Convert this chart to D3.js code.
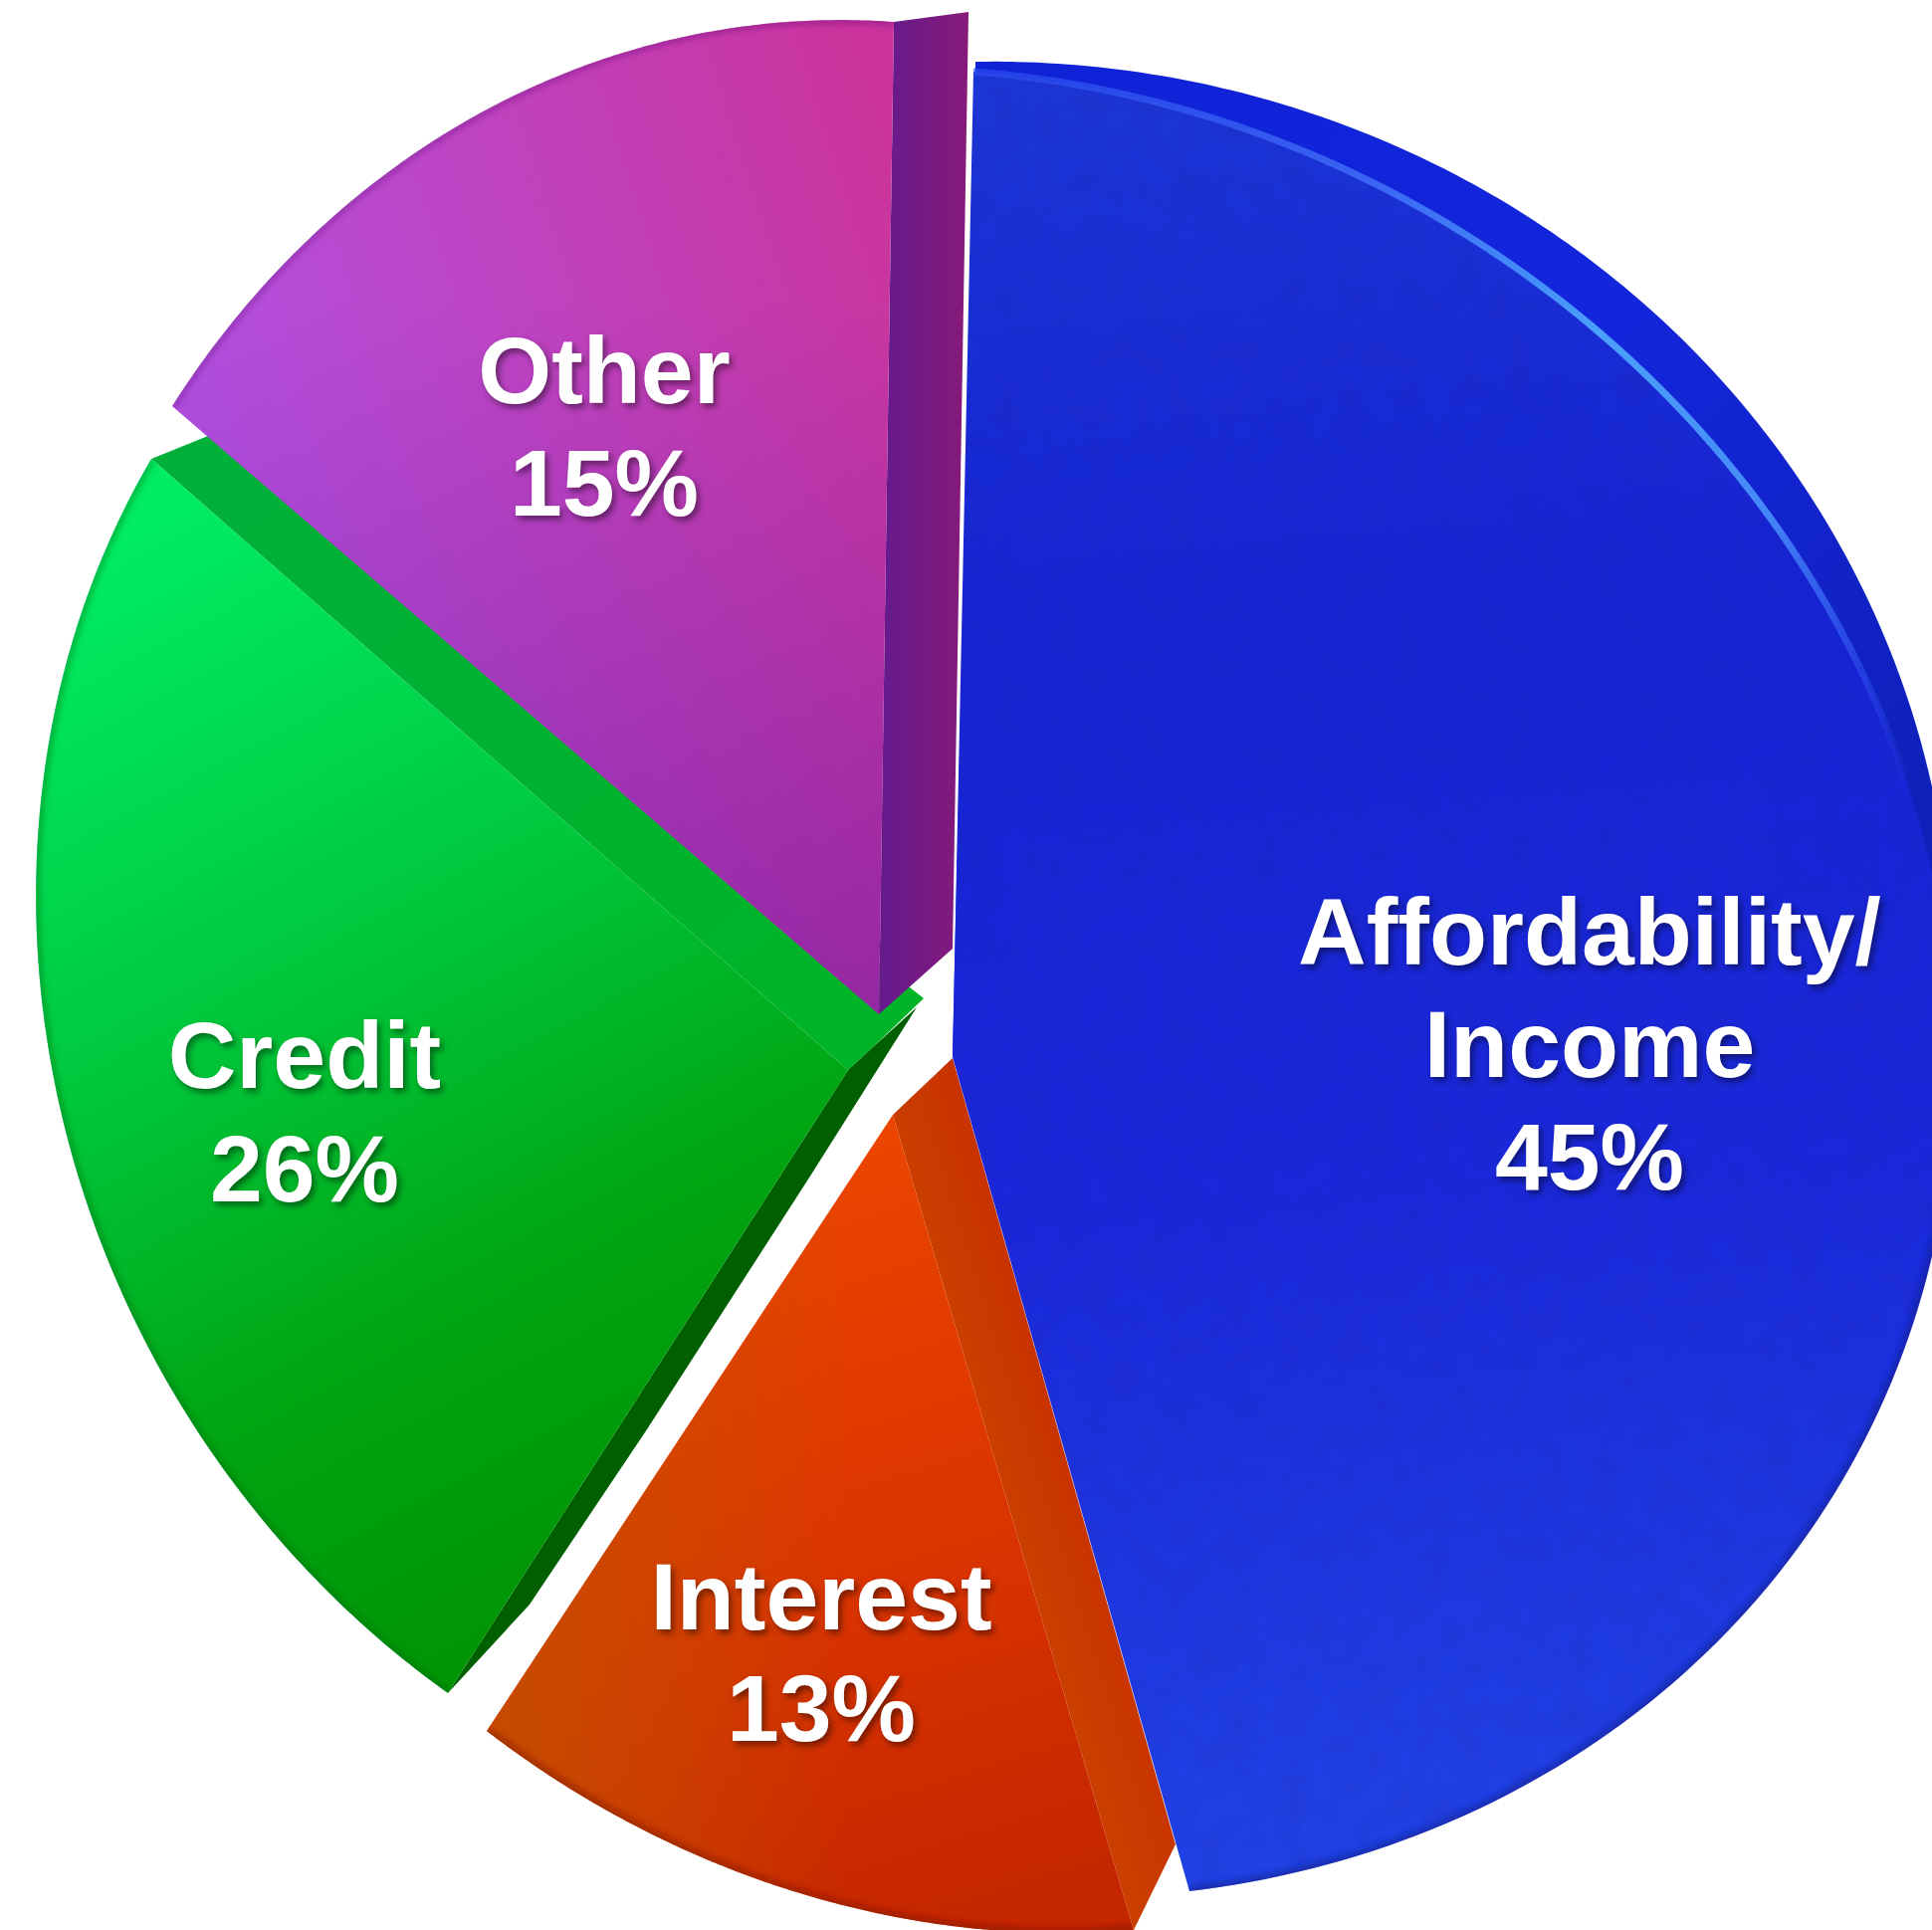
<!DOCTYPE html>
<html><head><meta charset="utf-8">
<style>html,body{margin:0;background:#fff;overflow:hidden}text{font-family:"Liberation Sans",Arial,sans-serif;font-weight:700;fill:#fff;text-anchor:middle;filter:drop-shadow(3px 4px 3px rgba(0,0,0,.45))}</style>
<script src="https://cdn.jsdelivr.net/npm/d3@7/dist/d3.min.js"></script>
</head><body><svg id="c" width="1941" height="1939"></svg>
<script>
const categories=["Affordability/ Income","Interest","Credit","Other"];
const values=[45,13,26,15];
const percentLabels=["45%","13%","26%","15%"];
const labelLines=[["Affordability/","Income"],["Interest"],["Credit"],["Other"]];

// Perspective anchors: apex, rim at start angle, rim at mid angle, rim at end angle.
const faces=[
 {a:[957,1062],s:[978,72],m:[1962,1034],e:[1195,1900]},
 {a:[897,1120],s:[1139,1939],m:[797,1900],e:[489,1739]},
 {a:[852,1075],s:[450,1701],m:[70,1152],e:[152,461]},
 {a:[883,1019],s:[173,408],m:[491,109],e:[898,22]}
];
const blueBack={a:[957,1062],s:[980,62],m:[1961,948],e:[1190,1880]};
const sideFaces=[
 {pts:[[957,1063],[897,1120],[1139,1939],[1181,1853]],fill:"url(#redSide)"},
 {pts:[[152,461],[209,438],[928,1003],[877,1052],[852,1075]],fill:"url(#greenTop)"},
 {pts:[[852,1075],[877,1052],[921,1012],[815,1180],[650,1436],[532,1612],[450,1701]],fill:"#006000"},
 {pts:[[898,22],[973,12],[957,953],[883,1019]],fill:"url(#purpleSide)"}
];
const labelPos=[[1597,969],[825,1637],[306,1093],[607,405]];
const fills=["url(#blue)","url(#red)","url(#green)","url(#purple)"];

const svg=d3.select("#c"), defs=svg.append("defs");
function grad(id,x1,y1,x2,y2,stops){
  const g=defs.append("linearGradient").attr("id",id).attr("gradientUnits","userSpaceOnUse")
   .attr("x1",x1).attr("y1",y1).attr("x2",x2).attr("y2",y2);
  stops.forEach(([o,c,op])=>g.append("stop").attr("offset",o).attr("stop-color",c).attr("stop-opacity",op==null?1:op));
}
grad("blue",1300,60,1450,1900,[[0,"#1c36d6"],[.3,"#1624d4"],[.62,"#1a28da"],[1,"#2144e6"]]);
grad("blueBack",1000,60,1900,900,[[0,"#0f22d6"],[.5,"#1426dc"],[1,"#0f20b8"]]);
grad("hl",1000,70,1930,860,[[0,"#2c4cf0",.7],[.3,"#3a66f4",1],[.52,"#4aa0fc",1],[.72,"#4488f8",1],[.86,"#2c4cec",.7],[.96,"#2a40e8",0]]);
grad("red",760,1150,1000,1920,[[0,"#ec4600"],[.55,"#da3400"],[1,"#c42600"]]);
grad("redTint",470,1700,850,1700,[[0,"#c25000",.9],[1,"#c25000",0]]);
grad("redSide",900,1400,1060,1350,[[0,"#cc4a00"],[1,"#c83000"]]);
grad("green",200,500,800,1620,[[0,"#00ec62"],[.33,"#00cc42"],[.66,"#00a512"],[1,"#008f00"]]);
grad("greenTop",300,480,800,1060,[[0,"#00b038"],[1,"#00b428"]]);
grad("purple",200,380,900,160,[[0,"#b350e0"],[1,"#cb349c"]]);
grad("purpleShade",600,300,600,1020,[[0,"#6a1090",0],[1,"#6a1090",.5]]);
grad("purpleSide",890,500,975,500,[[0,"#661a8c"],[1,"#881a78"]]);

const f=defs.append("filter").attr("id","soft").attr("x","-5%").attr("y","-5%").attr("width","110%").attr("height","110%");
f.append("feGaussianBlur").attr("stdDeviation",3.5);
const n=defs.append("filter").attr("id","noise").attr("x",0).attr("y",0).attr("width","100%").attr("height","100%");
n.append("feTurbulence").attr("type","fractalNoise").attr("baseFrequency",.035).attr("numOctaves",3).attr("seed",4);
n.append("feColorMatrix").attr("values","0 0 0 0 0.02  0 0 0 0 0.02  0 0 0 0 0.35  1.6 0 0 0 -0.62");

// Homography from unit-circle coordinates to the picture
function solve(A,b){const m=A.map((r,i)=>[...r,b[i]]),N=b.length;
  for(let i=0;i<N;i++){let p=i;for(let k=i+1;k<N;k++)if(Math.abs(m[k][i])>Math.abs(m[p][i]))p=k;
    [m[i],m[p]]=[m[p],m[i]];
    for(let k=0;k<N;k++)if(k!==i){const t=m[k][i]/m[i][i];for(let j=i;j<=N;j++)m[k][j]-=t*m[i][j];}}
  return m.map((r,i)=>r[N]/r[i]);}
const unit=t=>[Math.sin(t),-Math.cos(t)];
function homography(src,dst){const A=[],b=[];
  src.forEach(([x,y],i)=>{const [u,v]=dst[i];
    A.push([x,y,1,0,0,0,-u*x,-u*y]);b.push(u);
    A.push([0,0,0,x,y,1,-v*x,-v*y]);b.push(v);});
  const h=solve(A,b);
  return ([x,y])=>{const w=h[6]*x+h[7]*y+1;return [(h[0]*x+h[1]*y+h[2])/w,(h[3]*x+h[4]*y+h[5])/w];};}

const arcs=d3.pie().sort(null)(values);
const line=d3.line(), closed=pts=>line(pts)+"Z";
const rimOf=(H,t0,t1)=>d3.range(0,161).map(i=>H(unit(t0+(t1-t0)*i/160)));
const project=(d,anchor)=>homography(
  [[0,0],unit(d.startAngle),unit((d.startAngle+d.endAngle)/2),unit(d.endAngle)],
  [anchor.a,anchor.s,anchor.m,anchor.e]);

const Hs=arcs.map((d,i)=>project(d,faces[i]));
const wedge=i=>closed([faces[i].a,...rimOf(Hs[i],arcs[i].startAngle,arcs[i].endAngle)]);
const g=svg.append("g");

function bevel(i,color,op,w){
  const id="clip"+i;
  defs.append("clipPath").attr("id",id).append("path").attr("d",wedge(i));
  g.append("g").attr("clip-path",`url(#${id})`).append("path")
   .attr("d",line(rimOf(Hs[i],arcs[i].startAngle,arcs[i].endAngle)))
   .attr("fill","none").attr("stroke",color).attr("stroke-opacity",op).attr("stroke-width",w).attr("filter","url(#soft)");
}

// Green
g.append("path").attr("d",closed(sideFaces[1].pts)).attr("fill",sideFaces[1].fill);
g.append("path").attr("d",closed(sideFaces[2].pts)).attr("fill",sideFaces[2].fill);
g.append("path").attr("d",wedge(2)).attr("fill",fills[2]);
bevel(2,"#006010",.45,7);
// Purple
g.append("path").attr("d",closed(sideFaces[3].pts)).attr("fill",sideFaces[3].fill);
g.append("path").attr("d",wedge(3)).attr("fill",fills[3]);
g.append("path").attr("d",wedge(3)).attr("fill","url(#purpleShade)");
bevel(3,"#60107a",.5,6);
// Red
g.append("path").attr("d",closed(sideFaces[0].pts)).attr("fill",sideFaces[0].fill);
g.append("path").attr("d",wedge(1)).attr("fill",fills[1]);
g.append("path").attr("d",wedge(1)).attr("fill","url(#redTint)");
bevel(1,"#7a1400",.6,8);
// Blue
const HB=project(arcs[0],blueBack), d0=arcs[0];
g.append("path").attr("d",closed([blueBack.a,...rimOf(HB,d0.startAngle,d0.startAngle+(d0.endAngle-d0.startAngle)*.55)])).attr("fill","url(#blueBack)");
g.append("path").attr("d",wedge(0)).attr("fill",fills[0]);
defs.append("clipPath").attr("id","blueClip").append("path").attr("d",wedge(0));
g.append("g").attr("clip-path","url(#blueClip)").append("rect").attr("width",1941).attr("height",1939).attr("filter","url(#noise)").attr("opacity",.22);
defs.append("clipPath").attr("id","blueLow").append("path").attr("d",closed([faces[0].a,...rimOf(Hs[0],d0.startAngle+(d0.endAngle-d0.startAngle)*.55,d0.endAngle)]));
g.append("g").attr("clip-path","url(#blueLow)").append("path")
 .attr("d",line(rimOf(Hs[0],d0.startAngle+(d0.endAngle-d0.startAngle)*.55,d0.endAngle)))
 .attr("fill","none").attr("stroke","#0b1a80").attr("stroke-opacity",.6).attr("stroke-width",8).attr("filter","url(#soft)");
g.append("path").attr("d",line(rimOf(Hs[0],d0.startAngle,d0.startAngle+(d0.endAngle-d0.startAngle)*.5)))
 .attr("fill","none").attr("stroke","url(#hl)").attr("stroke-width",7);

// Labels
const lh=[113,112,114,113];
const t=svg.append("g").attr("font-size",95);
categories.forEach((c,i)=>{
  [...labelLines[i],percentLabels[i]].forEach((s,k)=>{
    t.append("text").attr("x",labelPos[i][0]).attr("y",labelPos[i][1]+k*lh[i]).text(s);
  });
});
</script></body></html>
